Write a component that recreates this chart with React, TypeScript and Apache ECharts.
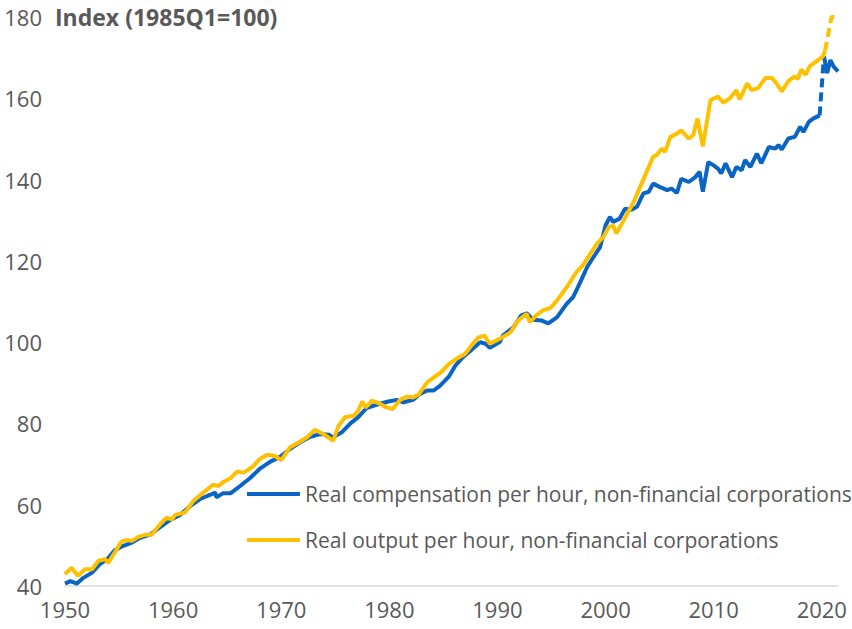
import React, { useEffect, useRef } from "react";
import * as echarts from "echarts";

const COMP_NAME = "Real compensation per hour, non-financial corporations";
const OUTPUT_NAME = "Real output per hour, non-financial corporations";
const TITLE = "Index (1985Q1=100)";

const xTickYears = [1950, 1960, 1970, 1980, 1990, 2000, 2010, 2020];
const yTicks = [40, 60, 80, 100, 120, 140, 160, 180];

// Real compensation per hour (solid, up to 2019)
const compYears = [
  1950.0, 1950.5, 1951.1, 1951.7, 1952.5, 1953.2, 1953.9, 1954.6, 1955.4, 1956.2,
  1956.9, 1957.9, 1958.8, 1959.7, 1960.6, 1961.6, 1962.5, 1963.4, 1963.9, 1964.0,
  1964.6, 1965.3, 1966.2, 1967.1, 1968.0, 1969.0, 1969.9, 1970.8, 1971.7, 1972.7,
  1973.6, 1974.4, 1974.8, 1975.6, 1976.4, 1977.1, 1977.9, 1978.8, 1979.9, 1980.7,
  1981.3, 1982.2, 1982.8, 1983.5, 1984.1, 1984.7, 1985.5, 1986.1, 1986.8, 1987.6,
  1988.4, 1988.9, 1989.3, 1990.2, 1990.5, 1991.5, 1992.2, 1992.7, 1993.3, 1994.1,
  1994.7, 1995.5, 1996.4, 1997.0, 1997.6, 1998.3, 1998.9, 1999.5, 2000.0, 2000.4,
  2000.7, 2001.3, 2001.8, 2002.4, 2002.9, 2003.5, 2004.0, 2004.4, 2005.0, 2005.7,
  2006.1, 2006.6, 2007.0, 2007.7, 2008.3, 2008.7, 2009.0, 2009.5, 2010.0, 2010.4,
  2010.7, 2011.1, 2011.7, 2012.1, 2012.6, 2012.9, 2013.4, 2013.7, 2014.0, 2014.4,
  2015.1, 2015.7, 2016.0, 2016.3, 2016.9, 2017.5, 2018.0, 2018.3, 2018.8, 2019.2,
  2019.8,
];
const compValues = [
  40.6, 41.2, 40.6, 42.0, 43.3, 45.3, 46.6, 48.8, 49.9, 50.7,
  51.8, 52.7, 54.5, 56.2, 57.4, 59.7, 61.4, 62.4, 63.0, 61.8,
  62.8, 62.8, 64.6, 66.5, 68.8, 70.6, 71.8, 73.7, 75.3, 76.7,
  77.4, 77.2, 76.6, 77.8, 80.0, 81.5, 83.8, 84.6, 85.4, 85.8,
  85.2, 85.8, 87.2, 88.1, 88.1, 89.3, 91.5, 94.2, 96.3, 98.1,
  100.0, 99.6, 98.6, 100.0, 101.6, 103.7, 106.6, 107.1, 105.5, 105.3,
  104.6, 106.1, 109.4, 111.1, 114.4, 118.5, 121.0, 123.4, 128.7, 130.8,
  129.6, 130.4, 132.8, 132.6, 133.3, 136.6, 137.0, 139.0, 138.2, 137.4,
  137.8, 136.7, 140.2, 139.4, 140.6, 141.9, 137.0, 144.3, 143.5, 142.7,
  141.5, 144.0, 140.6, 143.1, 142.3, 144.8, 143.1, 144.8, 146.4, 144.0,
  148.0, 147.6, 148.5, 147.4, 150.1, 150.5, 153.0, 151.7, 154.2, 155.0,
  155.8,
];
// Compensation: break (dashed) and latest quarters (solid)
const compBreakYears = [2019.8, 2020.2];
const compBreakValues = [155.8, 170.3];
const compLateYears = [2020.2, 2020.5, 2020.8, 2021.1, 2021.5];
const compLateValues = [170.3, 166.2, 169.4, 167.8, 166.6];

// Real output per hour (solid)
const outputYears = [
  1950.0, 1950.6, 1951.2, 1951.85, 1952.5, 1953.1, 1953.7, 1954.0, 1954.6, 1955.2,
  1955.7, 1956.2, 1956.8, 1957.4, 1958.0, 1958.8, 1959.4, 1959.9, 1960.2, 1961.1,
  1961.9, 1962.8, 1963.7, 1964.2, 1964.6, 1965.3, 1965.9, 1966.5, 1967.3, 1968.0,
  1968.7, 1969.4, 1970.0, 1970.8, 1971.6, 1972.4, 1973.1, 1973.9, 1974.8, 1975.3,
  1975.9, 1976.7, 1977.1, 1977.5, 1977.8, 1978.4, 1979.1, 1979.6, 1980.3, 1981.0,
  1981.6, 1982.2, 1982.7, 1983.5, 1984.1, 1984.8, 1985.5, 1986.2, 1987.0, 1987.6,
  1988.2, 1988.8, 1989.3, 1990.2, 1991.2, 1991.9, 1992.7, 1993.0, 1993.6, 1994.2,
  1994.9, 1995.5, 1996.4, 1997.3, 1997.9, 1998.6, 1999.2, 1999.8, 2000.3, 2000.7,
  2001.0, 2001.6, 2002.6, 2003.2, 2003.8, 2004.4, 2004.7, 2005.2, 2005.5, 2006.0,
  2006.6, 2007.0, 2007.7, 2008.1, 2008.5, 2009.0, 2009.7, 2010.4, 2010.9, 2011.5,
  2012.1, 2012.4, 2013.1, 2013.5, 2014.1, 2014.8, 2015.4, 2015.8, 2016.3, 2016.9,
  2017.5, 2017.8, 2018.1, 2018.5, 2018.9, 2019.5, 2020.1, 2020.3,
];
const outputValues = [
  42.9, 44.5, 42.5, 44.1, 44.1, 46.2, 46.6, 45.7, 48.2, 50.9,
  51.3, 51.1, 52.1, 52.6, 52.6, 55.2, 56.8, 56.4, 57.5, 58.1,
  61.0, 63.0, 64.9, 64.6, 65.5, 66.5, 68.1, 67.9, 69.2, 71.2,
  72.3, 72.0, 71.0, 74.1, 75.3, 76.6, 78.4, 77.4, 75.7, 79.4,
  81.5, 81.9, 83.1, 85.4, 83.9, 85.6, 84.9, 84.1, 83.5, 85.8,
  86.6, 86.4, 87.1, 90.1, 91.3, 92.6, 94.6, 95.9, 97.1, 99.2,
  101.1, 101.6, 99.6, 100.8, 102.4, 105.3, 107.0, 104.9, 106.6, 107.8,
  108.4, 110.2, 113.5, 117.2, 118.9, 121.8, 124.2, 125.9, 128.3, 128.7,
  126.7, 129.6, 134.5, 138.2, 141.9, 145.6, 146.0, 147.6, 146.8, 150.5,
  151.3, 152.1, 150.1, 150.9, 155.0, 148.2, 159.5, 160.4, 158.9, 160.0,
  162.0, 159.7, 163.7, 162.0, 162.5, 165.0, 165.0, 163.7, 161.7, 164.2,
  165.4, 164.8, 167.1, 165.8, 167.9, 169.1, 170.3, 171.7,
];
// Output: latest quarters (dashed)
const outputLateYears = [2020.3, 2020.9, 2021.5];
const outputLateValues = [171.7, 180, 180];

const BLUE = "#0A64C4";
const GOLD = "#FFC000";
const TEXT = "#595959";
const FONT = "Open Sans";

const pairs = (xs: number[], ys: number[]) => xs.map((x, i) => [x, ys[i]]);

export default function App() {
  const ref = useRef<HTMLDivElement>(null);

  useEffect(() => {
    if (!ref.current) return;
    const chart = echarts.init(ref.current, null, { renderer: "svg" });
    const lineBase = {
      type: "line" as const,
      showSymbol: false,
      symbol: "none",
      smooth: false,
      silent: true,
    };
    chart.setOption({
      animation: false,
      backgroundColor: "#ffffff",
      textStyle: { fontFamily: FONT },
      title: {
        text: TITLE,
        left: 55,
        top: 3,
        padding: 0,
        textStyle: {
          fontFamily: FONT,
          fontSize: 23,
          fontWeight: "bold",
          color: TEXT,
          lineHeight: 28,
        },
      },
      legend: {
        data: [COMP_NAME, OUTPUT_NAME],
        orient: "vertical",
        left: 247,
        top: 482,
        padding: 0,
        icon: "rect",
        itemWidth: 53,
        itemHeight: 4,
        itemGap: 22,
        selectedMode: false,
        textStyle: {
          fontFamily: FONT,
          fontSize: 21,
          color: TEXT,
          lineHeight: 24,
        },
      },
      grid: { left: 65, right: 14, top: 17, bottom: 43, containLabel: false },
      xAxis: {
        type: "value",
        min: 1950,
        max: 2021.5,
        interval: 10,
        splitLine: { show: false },
        axisTick: { show: false },
        axisLine: { show: true, onZero: false, lineStyle: { color: "#D9D9D9", width: 1.5 } },
        axisLabel: {
          margin: 12,
          fontFamily: FONT,
          fontSize: 22,
          color: TEXT,
          showMaxLabel: false,
          formatter: (v: number) => (xTickYears.includes(v) ? String(v) : ""),
        },
      },
      yAxis: {
        type: "value",
        min: yTicks[0],
        max: yTicks[yTicks.length - 1],
        interval: 20,
        splitLine: { show: false },
        axisTick: { show: false },
        axisLine: { show: false },
        axisLabel: {
          margin: 23,
          fontFamily: FONT,
          fontSize: 22,
          color: TEXT,
        },
      },
      series: [
        {
          ...lineBase,
          name: COMP_NAME,
          color: BLUE,
          lineStyle: { color: BLUE, width: 4 },
          data: pairs(compYears, compValues),
          z: 2,
        },
        {
          ...lineBase,
          name: "comp-break",
          color: BLUE,
          lineStyle: { color: BLUE, width: 4, type: [9, 5] },
          data: pairs(compBreakYears, compBreakValues),
          z: 2,
        },
        {
          ...lineBase,
          name: "comp-late",
          color: BLUE,
          lineStyle: { color: BLUE, width: 4 },
          data: pairs(compLateYears, compLateValues),
          z: 2,
        },
        {
          ...lineBase,
          name: OUTPUT_NAME,
          color: GOLD,
          lineStyle: { color: GOLD, width: 4 },
          data: pairs(outputYears, outputValues),
          z: 3,
        },
        {
          ...lineBase,
          name: "output-late",
          color: GOLD,
          lineStyle: { color: GOLD, width: 4, type: [9, 5] },
          data: pairs(outputLateYears, outputLateValues),
          z: 3,
        },
      ],
    });
    return () => chart.dispose();
  }, []);

  return (
    <div
      ref={ref}
      style={{ position: "fixed", left: 0, top: 0, width: 852, height: 629, background: "#fff" }}
    />
  );
}
